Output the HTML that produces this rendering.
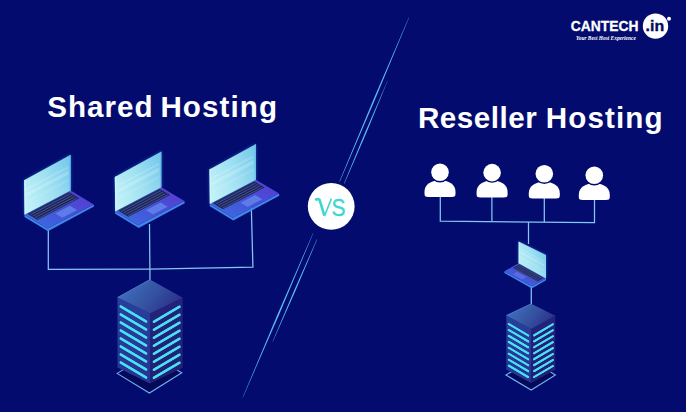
<!DOCTYPE html>
<html><head><meta charset="utf-8">
<style>
html,body{margin:0;padding:0;background:#030c6e;}
body{width:686px;height:412px;overflow:hidden;}
svg{display:block;}
</style></head>
<body>
<svg width="686" height="412" viewBox="0 0 686 412">
<defs>
  <linearGradient id="scr" x1="0" y1="0.8" x2="1" y2="0.2">
    <stop offset="0" stop-color="#c2f2f8"/>
    <stop offset="0.5" stop-color="#a2e2f2"/>
    <stop offset="1" stop-color="#78caec"/>
  </linearGradient>
  <linearGradient id="base" x1="0" y1="1" x2="1" y2="0">
    <stop offset="0" stop-color="#3a70e2"/>
    <stop offset="0.5" stop-color="#4552d8"/>
    <stop offset="1" stop-color="#5a38d0"/>
  </linearGradient>
  <linearGradient id="stop" x1="0" y1="0.3" x2="1" y2="0.7">
    <stop offset="0" stop-color="#4070c0"/>
    <stop offset="0.55" stop-color="#34509e"/>
    <stop offset="1" stop-color="#2a2c88"/>
  </linearGradient>
  <linearGradient id="sleft" x1="0" y1="0" x2="0" y2="1">
    <stop offset="0" stop-color="#283f9c"/>
    <stop offset="1" stop-color="#263494"/>
  </linearGradient>
  <linearGradient id="sright" x1="0" y1="0" x2="0" y2="1">
    <stop offset="0" stop-color="#25227c"/>
    <stop offset="1" stop-color="#212076"/>
  </linearGradient>
  <filter id="glow" x="-20%" y="-50%" width="140%" height="200%">
    <feGaussianBlur stdDeviation="0.6" result="b"/>
    <feMerge><feMergeNode in="b"/><feMergeNode in="SourceGraphic"/></feMerge>
  </filter>
  <filter id="soft" x="-20%" y="-50%" width="140%" height="200%">
    <feGaussianBlur stdDeviation="0.7"/>
  </filter>
  <filter id="halo" x="-50%" y="-50%" width="200%" height="200%">
    <feGaussianBlur stdDeviation="1.6"/>
  </filter>
  <g id="user">
    <path d="M-15.5,19.5 C-15.5,12 -8.5,8 0,8 C8.5,8 15.5,12 15.5,19.5 L15.5,21.8 C15.5,24.2 14.2,24.8 11.5,24.8 L-11.5,24.8 C-14.2,24.8 -15.5,24.2 -15.5,21.8 Z" fill="#fff"/>
    <circle cx="0" cy="0" r="10.2" fill="#030c6e"/>
    <circle cx="0" cy="0" r="8.8" fill="#fff"/>
  </g>
</defs>

<polygon points="408.81,17.56 373.56,99.26 339.37,181.40 339.83,181.60 374.94,99.84 408.99,17.64" fill="#5cbcf4"/>
<polygon points="387.51,80.76 365.26,131.88 343.97,183.40 344.43,183.60 366.54,132.42 387.69,80.84" fill="#5cbcf4"/>
<polygon points="312.96,233.24 277.26,315.05 242.71,397.36 242.89,397.44 278.64,315.65 313.24,233.36" fill="#5cbcf4"/>
<polygon points="316.86,239.34 294.21,290.22 272.61,341.56 272.79,341.64 295.49,290.78 317.14,239.46" fill="#5cbcf4"/>
<text x="47.3" y="116.8" font-family="Liberation Sans, sans-serif" font-weight="bold" font-size="29.6" fill="#fff" letter-spacing="1.0">Shared</text>
<text x="160.4" y="116.8" font-family="Liberation Sans, sans-serif" font-weight="bold" font-size="29.6" fill="#fff" letter-spacing="1.1">Hosting</text>
<text x="418" y="127.8" font-family="Liberation Sans, sans-serif" font-weight="bold" font-size="29.6" fill="#fff" letter-spacing="0.5">Reseller</text>
<text x="545.8" y="127.8" font-family="Liberation Sans, sans-serif" font-weight="bold" font-size="29.6" fill="#fff" letter-spacing="1.1">Hosting</text>
<g stroke="#84c6f4" stroke-width="1.25" fill="none">
  <polyline points="48.3,229 48.3,269.3 150,269.1 252.9,267.1 251.3,206"/>
  <line x1="149.5" y1="224" x2="150" y2="281"/>
</g>
<polygon points="24.50,214.80 47.50,228.60 93.70,204.40 94.00,206.60 48.00,231.20 24.50,217.00" fill="#3f86ea"/>
<polygon points="24.50,214.80 70.70,190.60 93.70,204.40 47.50,228.60" fill="url(#base)"/>
<polygon points="27.27,213.87 68.85,192.09 79.20,198.30 37.62,220.08" fill="#1c2356"/>
<line x1="30.49" y1="214.76" x2="70.23" y2="193.95" stroke="#445292" stroke-width="1"/>
<line x1="32.79" y1="216.14" x2="72.53" y2="195.33" stroke="#445292" stroke-width="1"/>
<line x1="35.09" y1="217.52" x2="74.83" y2="196.71" stroke="#445292" stroke-width="1"/>
<line x1="37.39" y1="218.90" x2="77.13" y2="198.09" stroke="#445292" stroke-width="1"/>
<polygon points="55.17,213.47 69.95,205.73 77.08,210.00 62.30,217.75" fill="#5e7ce8"/>
<polygon points="24.10,180.30 70.70,154.80 70.70,190.60 24.50,214.80" fill="#3a8ef0" opacity="0.55" filter="url(#halo)"/>
<polygon points="24.10,180.30 70.70,154.80 70.70,190.60 24.50,214.80" fill="url(#scr)"/>
<polygon points="26.61,196.34 68.19,174.56 68.15,171.11 26.57,192.89" fill="#ffffff" opacity="0.2" filter="url(#soft)"/>
<polygon points="26.54,190.13 68.12,168.35 68.09,166.28 26.51,188.06" fill="#ffffff" opacity="0.16" filter="url(#soft)"/>
<polygon points="26.69,203.24 68.27,181.46 68.24,179.05 26.66,200.82" fill="#ffffff" opacity="0.1" filter="url(#soft)"/>
<polygon points="24.10,180.30 25.70,179.40 26.10,213.90 24.50,214.80" fill="#d8f8fd" opacity="0.55"/>
<polygon points="69.30,155.60 70.70,154.80 70.70,190.60 69.30,191.40" fill="#5cb8e8" opacity="0.6"/>
<polygon points="115.20,211.50 138.20,225.30 184.40,201.10 184.70,203.30 138.70,227.90 115.20,213.70" fill="#3f86ea"/>
<polygon points="115.20,211.50 161.40,187.30 184.40,201.10 138.20,225.30" fill="url(#base)"/>
<polygon points="117.97,210.57 159.55,188.79 169.90,195.00 128.32,216.78" fill="#1c2356"/>
<line x1="121.19" y1="211.46" x2="160.93" y2="190.65" stroke="#445292" stroke-width="1"/>
<line x1="123.49" y1="212.84" x2="163.23" y2="192.03" stroke="#445292" stroke-width="1"/>
<line x1="125.79" y1="214.22" x2="165.53" y2="193.41" stroke="#445292" stroke-width="1"/>
<line x1="128.09" y1="215.60" x2="167.83" y2="194.79" stroke="#445292" stroke-width="1"/>
<polygon points="145.87,210.17 160.65,202.43 167.78,206.70 153.00,214.45" fill="#5e7ce8"/>
<polygon points="114.80,177.00 161.40,151.50 161.40,187.30 115.20,211.50" fill="#3a8ef0" opacity="0.55" filter="url(#halo)"/>
<polygon points="114.80,177.00 161.40,151.50 161.40,187.30 115.20,211.50" fill="url(#scr)"/>
<polygon points="117.31,193.04 158.89,171.26 158.85,167.81 117.27,189.59" fill="#ffffff" opacity="0.2" filter="url(#soft)"/>
<polygon points="117.24,186.83 158.82,165.05 158.79,162.98 117.21,184.76" fill="#ffffff" opacity="0.16" filter="url(#soft)"/>
<polygon points="117.39,199.94 158.97,178.16 158.94,175.75 117.36,197.52" fill="#ffffff" opacity="0.1" filter="url(#soft)"/>
<polygon points="114.80,177.00 116.40,176.10 116.80,210.60 115.20,211.50" fill="#d8f8fd" opacity="0.55"/>
<polygon points="160.00,152.30 161.40,151.50 161.40,187.30 160.00,188.10" fill="#5cb8e8" opacity="0.6"/>
<polygon points="209.80,204.00 232.80,217.80 279.00,193.60 279.30,195.80 233.30,220.40 209.80,206.20" fill="#3f86ea"/>
<polygon points="209.80,204.00 256.00,179.80 279.00,193.60 232.80,217.80" fill="url(#base)"/>
<polygon points="212.57,203.07 254.15,181.29 264.50,187.50 222.92,209.28" fill="#1c2356"/>
<line x1="215.79" y1="203.96" x2="255.53" y2="183.15" stroke="#445292" stroke-width="1"/>
<line x1="218.09" y1="205.34" x2="257.83" y2="184.53" stroke="#445292" stroke-width="1"/>
<line x1="220.39" y1="206.72" x2="260.13" y2="185.91" stroke="#445292" stroke-width="1"/>
<line x1="222.69" y1="208.10" x2="262.43" y2="187.29" stroke="#445292" stroke-width="1"/>
<polygon points="240.47,202.67 255.25,194.93 262.38,199.20 247.60,206.95" fill="#5e7ce8"/>
<polygon points="209.40,169.50 256.00,144.00 256.00,179.80 209.80,204.00" fill="#3a8ef0" opacity="0.55" filter="url(#halo)"/>
<polygon points="209.40,169.50 256.00,144.00 256.00,179.80 209.80,204.00" fill="url(#scr)"/>
<polygon points="211.91,185.54 253.49,163.76 253.45,160.31 211.87,182.09" fill="#ffffff" opacity="0.2" filter="url(#soft)"/>
<polygon points="211.84,179.33 253.42,157.55 253.39,155.48 211.81,177.26" fill="#ffffff" opacity="0.16" filter="url(#soft)"/>
<polygon points="211.99,192.44 253.57,170.66 253.54,168.25 211.96,190.02" fill="#ffffff" opacity="0.1" filter="url(#soft)"/>
<polygon points="209.40,169.50 211.00,168.60 211.40,203.10 209.80,204.00" fill="#d8f8fd" opacity="0.55"/>
<polygon points="254.60,144.80 256.00,144.00 256.00,179.80 254.60,180.60" fill="#5cb8e8" opacity="0.6"/>
<polygon points="117.10,373.40 149.40,393.00 181.80,372.80 149.40,353.80" fill="#040a58" stroke="#74b0f2" stroke-width="1.1"/>
<polygon points="117.50,297.50 150.00,313.50 150.00,383.50 117.50,367.50" fill="url(#sleft)"/>
<polygon points="150.00,313.50 182.70,297.80 182.70,367.80 150.00,383.50" fill="url(#sright)"/>
<polygon points="150.00,279.50 182.70,297.80 150.00,313.50 117.50,297.50" fill="url(#stop)"/>
<polyline points="117.50,297.50 150.00,279.50" fill="none" stroke="#5a8ad8" stroke-width="0.9" opacity="0.8"/>
<g stroke="#47e2f2" stroke-width="2.3" stroke-linecap="round" filter="url(#glow)"><line x1="120.75" y1="306.50" x2="146.10" y2="321.46"/><line x1="153.92" y1="321.85" x2="179.43" y2="306.80"/><line x1="120.75" y1="314.50" x2="146.10" y2="329.46"/><line x1="153.92" y1="329.85" x2="179.43" y2="314.80"/><line x1="120.75" y1="322.50" x2="146.10" y2="337.46"/><line x1="153.92" y1="337.85" x2="179.43" y2="322.80"/><line x1="120.75" y1="330.50" x2="146.10" y2="345.46"/><line x1="153.92" y1="345.85" x2="179.43" y2="330.80"/><line x1="120.75" y1="338.50" x2="146.10" y2="353.46"/><line x1="153.92" y1="353.85" x2="179.43" y2="338.80"/><line x1="120.75" y1="346.50" x2="146.10" y2="361.46"/><line x1="153.92" y1="361.85" x2="179.43" y2="346.80"/><line x1="120.75" y1="354.50" x2="146.10" y2="369.46"/><line x1="153.92" y1="369.85" x2="179.43" y2="354.80"/><line x1="120.75" y1="362.50" x2="146.10" y2="377.46"/><line x1="153.92" y1="377.85" x2="179.43" y2="362.80"/></g>
<circle cx="331.2" cy="206.4" r="23.4" fill="#fff"/>
<g fill="none" stroke="#3ed6d0" stroke-linecap="butt"><path d="M315.2,200 Q317.4,198.4 319.5,199.6 L324.4,215.6" stroke-width="2.6"/><path d="M324.6,215.8 L331.4,198.6" stroke-width="1.6"/></g>
<text x="0" y="0" transform="translate(331.6,215.6) scale(0.86,1)" font-family="Liberation Sans, sans-serif" font-size="24.5" fill="#3ed6d0" stroke="#3ed6d0" stroke-width="0.35">S</text>
<g stroke="#84c6f4" stroke-width="1.25" fill="none">
  <polyline points="440.3,196 440.3,221.2 594.5,222.6 594.5,199"/>
  <line x1="491.9" y1="197" x2="491.9" y2="221.6"/>
  <line x1="544.3" y1="197" x2="544.3" y2="222.1"/>
  <line x1="528.5" y1="222" x2="528.5" y2="244"/>
  <line x1="531.3" y1="284" x2="531.3" y2="305"/>
</g>
<use href="#user" transform="translate(440,172.3)"/>
<use href="#user" transform="translate(492.1,172.6)"/>
<use href="#user" transform="translate(544.3,173.8)"/>
<use href="#user" transform="translate(594.3,175.3)"/>
<polygon points="504.40,271.20 531.80,286.30 546.00,278.40 546.00,280.20 531.80,288.50 504.40,273.00" fill="#3f86ea"/>
<polygon points="518.60,263.30 546.00,278.40 531.80,286.30 504.40,271.20" fill="url(#base)"/>
<polygon points="519.40,264.37 544.06,277.96 537.53,281.59 512.87,268.00" fill="#1c2356"/>
<line x1="518.53" y1="265.46" x2="542.09" y2="278.45" stroke="#445292" stroke-width="0.7"/>
<line x1="516.97" y1="266.33" x2="540.53" y2="279.32" stroke="#445292" stroke-width="0.7"/>
<line x1="515.41" y1="267.20" x2="538.97" y2="280.19" stroke="#445292" stroke-width="0.7"/>
<line x1="513.99" y1="267.99" x2="537.55" y2="280.98" stroke="#445292" stroke-width="0.7"/>
<polygon points="516.93,271.81 526.52,277.10 522.26,279.47 512.67,274.18" fill="#5a6ae2"/>
<polygon points="518.60,241.50 546.00,255.00 546.00,278.40 518.60,263.30" fill="#3a8ef0" opacity="0.55" filter="url(#halo)"/>
<polygon points="518.60,241.50 546.00,255.00 546.00,278.40 518.60,263.30" fill="url(#scr)"/>
<polygon points="519.97,253.16 544.63,266.75 544.63,264.56 519.97,250.97" fill="#ffffff" opacity="0.2" filter="url(#soft)"/>
<polygon points="519.97,249.23 544.63,262.82 544.63,261.51 519.97,247.92" fill="#ffffff" opacity="0.16" filter="url(#soft)"/>
<polygon points="519.97,257.51 544.63,271.10 544.63,269.58 519.97,255.99" fill="#ffffff" opacity="0.1" filter="url(#soft)"/>
<polygon points="518.60,241.50 519.90,242.20 519.90,264.00 518.60,263.30" fill="#d8f8fd" opacity="0.55"/>
<polygon points="505.90,375.00 531.20,390.00 555.40,375.00 531.20,360.00" fill="#040a58" stroke="#74b0f2" stroke-width="1.1"/>
<polygon points="506.30,315.50 531.20,329.00 531.20,383.00 506.30,369.50" fill="url(#sleft)"/>
<polygon points="531.20,329.00 555.30,315.80 555.30,369.80 531.20,383.00" fill="url(#sright)"/>
<polygon points="531.20,303.80 555.30,315.80 531.20,329.00 506.30,315.50" fill="url(#stop)"/>
<polyline points="506.30,315.50 531.20,303.80" fill="none" stroke="#5a8ad8" stroke-width="0.9" opacity="0.8"/>
<g stroke="#47e2f2" stroke-width="1.9" stroke-linecap="round" filter="url(#glow)"><line x1="508.79" y1="324.00" x2="528.21" y2="335.46"/><line x1="534.09" y1="335.39" x2="552.89" y2="324.30"/><line x1="508.79" y1="329.95" x2="528.21" y2="341.41"/><line x1="534.09" y1="341.34" x2="552.89" y2="330.25"/><line x1="508.79" y1="335.90" x2="528.21" y2="347.36"/><line x1="534.09" y1="347.29" x2="552.89" y2="336.20"/><line x1="508.79" y1="341.85" x2="528.21" y2="353.31"/><line x1="534.09" y1="353.24" x2="552.89" y2="342.15"/><line x1="508.79" y1="347.80" x2="528.21" y2="359.26"/><line x1="534.09" y1="359.19" x2="552.89" y2="348.10"/><line x1="508.79" y1="353.75" x2="528.21" y2="365.21"/><line x1="534.09" y1="365.14" x2="552.89" y2="354.05"/><line x1="508.79" y1="359.70" x2="528.21" y2="371.16"/><line x1="534.09" y1="371.09" x2="552.89" y2="360.00"/><line x1="508.79" y1="365.65" x2="528.21" y2="377.11"/><line x1="534.09" y1="377.04" x2="552.89" y2="365.95"/></g>
<text x="570.8" y="30.8" font-family="Liberation Sans, sans-serif" font-weight="bold" font-size="15.4" fill="#fff" stroke="#fff" stroke-width="0.3" textLength="67.6" lengthAdjust="spacingAndGlyphs">CANTECH</text>
<circle cx="655.5" cy="26.1" r="12.7" fill="#fff"/>
<text x="645.6" y="30.8" font-family="Liberation Sans, sans-serif" font-weight="bold" font-size="15.5" fill="#050d5c" stroke="#050d5c" stroke-width="0.35" textLength="18.6" lengthAdjust="spacingAndGlyphs">.in</text>
<circle cx="669" cy="18.8" r="2" fill="#fff"/>
<text x="576" y="40.4" font-family="Liberation Serif, serif" font-style="italic" font-weight="bold" font-size="6.8" fill="#fff" textLength="59.8" lengthAdjust="spacingAndGlyphs">Your Best Host Experience</text>
</svg>
</body></html>
